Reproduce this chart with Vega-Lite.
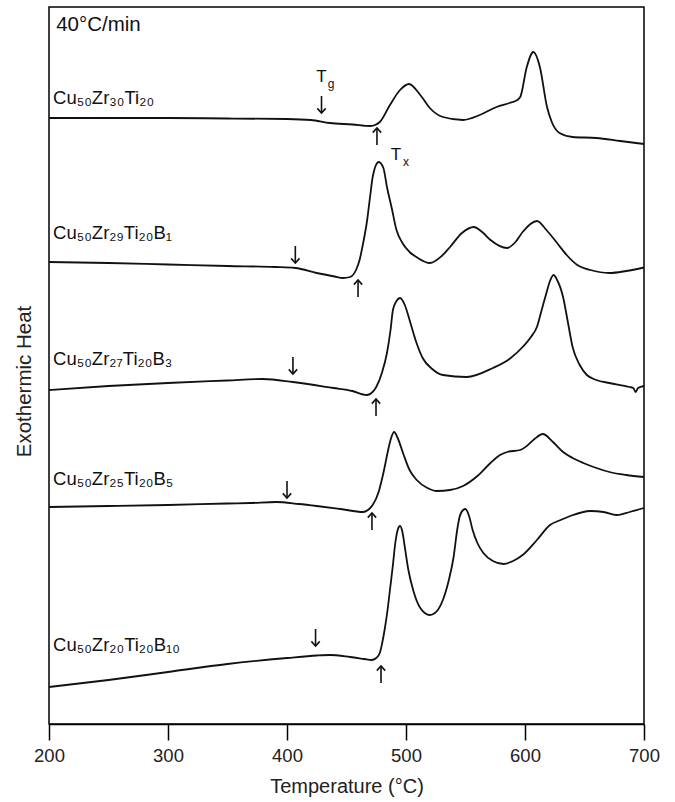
{
  "$schema": "https://vega.github.io/schema/vega-lite/v6.json",
  "width": 595,
  "height": 717,
  "autosize": {"type": "none"},
  "padding": {"left": 49, "top": 7, "right": 31, "bottom": 78},
  "background": "white",
  "config": {"view": {"stroke": "#000", "strokeWidth": 1.5}, "font": "Liberation Sans"},
  "datasets": {
    "curves": [
      {"s": "A", "T": 200, "h": 606}, {"s": "A", "T": 250, "h": 606}, {"s": "A", "T": 300, "h": 606}, {"s": "A", "T": 350, "h": 605.5}, {"s": "A", "T": 400, "h": 605}, {"s": "A", "T": 420, "h": 604}, {"s": "A", "T": 436, "h": 601}, {"s": "A", "T": 455, "h": 599.5}, {"s": "A", "T": 470, "h": 598}, {"s": "A", "T": 474, "h": 599}, {"s": "A", "T": 478, "h": 602}, {"s": "A", "T": 486.5, "h": 619}, {"s": "A", "T": 495, "h": 634}, {"s": "A", "T": 502.5, "h": 640}, {"s": "A", "T": 512, "h": 629}, {"s": "A", "T": 520, "h": 616}, {"s": "A", "T": 531, "h": 607}, {"s": "A", "T": 548, "h": 604}, {"s": "A", "T": 562, "h": 609}, {"s": "A", "T": 576, "h": 617}, {"s": "A", "T": 587, "h": 621}, {"s": "A", "T": 592, "h": 623}, {"s": "A", "T": 596, "h": 627}, {"s": "A", "T": 601.5, "h": 657}, {"s": "A", "T": 607, "h": 672}, {"s": "A", "T": 612.5, "h": 657}, {"s": "A", "T": 618.5, "h": 617}, {"s": "A", "T": 622.5, "h": 602}, {"s": "A", "T": 629, "h": 591}, {"s": "A", "T": 640, "h": 587}, {"s": "A", "T": 660, "h": 586}, {"s": "A", "T": 680, "h": 583}, {"s": "A", "T": 700, "h": 580},

      {"s": "B", "T": 200, "h": 462}, {"s": "B", "T": 250, "h": 461}, {"s": "B", "T": 300, "h": 459.5}, {"s": "B", "T": 350, "h": 458}, {"s": "B", "T": 390, "h": 457}, {"s": "B", "T": 407, "h": 456}, {"s": "B", "T": 425, "h": 451}, {"s": "B", "T": 440, "h": 447.5}, {"s": "B", "T": 447, "h": 446}, {"s": "B", "T": 453, "h": 447}, {"s": "B", "T": 458, "h": 454}, {"s": "B", "T": 461, "h": 464}, {"s": "B", "T": 464, "h": 481}, {"s": "B", "T": 467, "h": 501}, {"s": "B", "T": 470, "h": 529}, {"s": "B", "T": 472, "h": 547}, {"s": "B", "T": 477, "h": 562}, {"s": "B", "T": 481, "h": 556}, {"s": "B", "T": 484, "h": 537}, {"s": "B", "T": 488, "h": 516}, {"s": "B", "T": 492, "h": 494}, {"s": "B", "T": 497, "h": 481}, {"s": "B", "T": 503, "h": 472}, {"s": "B", "T": 510, "h": 466}, {"s": "B", "T": 520, "h": 461}, {"s": "B", "T": 530, "h": 468}, {"s": "B", "T": 537, "h": 477}, {"s": "B", "T": 547, "h": 491}, {"s": "B", "T": 557, "h": 497}, {"s": "B", "T": 564, "h": 492}, {"s": "B", "T": 571, "h": 484}, {"s": "B", "T": 585, "h": 476}, {"s": "B", "T": 592, "h": 482}, {"s": "B", "T": 598, "h": 492}, {"s": "B", "T": 610, "h": 503}, {"s": "B", "T": 618, "h": 494}, {"s": "B", "T": 627, "h": 481}, {"s": "B", "T": 635, "h": 469}, {"s": "B", "T": 644, "h": 459}, {"s": "B", "T": 655, "h": 454}, {"s": "B", "T": 671, "h": 451}, {"s": "B", "T": 685, "h": 453}, {"s": "B", "T": 700, "h": 456.5},

      {"s": "C", "T": 200, "h": 334}, {"s": "C", "T": 250, "h": 338}, {"s": "C", "T": 300, "h": 341}, {"s": "C", "T": 350, "h": 343.5}, {"s": "C", "T": 380, "h": 345}, {"s": "C", "T": 405, "h": 342}, {"s": "C", "T": 439, "h": 336}, {"s": "C", "T": 455, "h": 333}, {"s": "C", "T": 467, "h": 329}, {"s": "C", "T": 471, "h": 331}, {"s": "C", "T": 475, "h": 337}, {"s": "C", "T": 480, "h": 352}, {"s": "C", "T": 484, "h": 371}, {"s": "C", "T": 487, "h": 394}, {"s": "C", "T": 489, "h": 414}, {"s": "C", "T": 492, "h": 423}, {"s": "C", "T": 495, "h": 426}, {"s": "C", "T": 499, "h": 419}, {"s": "C", "T": 503, "h": 404}, {"s": "C", "T": 508, "h": 384}, {"s": "C", "T": 514, "h": 366}, {"s": "C", "T": 522, "h": 355}, {"s": "C", "T": 531, "h": 349}, {"s": "C", "T": 551, "h": 347}, {"s": "C", "T": 573, "h": 356}, {"s": "C", "T": 588, "h": 366}, {"s": "C", "T": 598, "h": 377}, {"s": "C", "T": 605, "h": 387}, {"s": "C", "T": 610, "h": 397}, {"s": "C", "T": 614, "h": 414}, {"s": "C", "T": 618, "h": 431}, {"s": "C", "T": 621, "h": 443}, {"s": "C", "T": 624, "h": 449}, {"s": "C", "T": 627, "h": 444}, {"s": "C", "T": 632, "h": 427}, {"s": "C", "T": 636, "h": 402}, {"s": "C", "T": 640, "h": 377}, {"s": "C", "T": 646, "h": 359}, {"s": "C", "T": 652, "h": 349}, {"s": "C", "T": 660, "h": 344}, {"s": "C", "T": 671, "h": 341}, {"s": "C", "T": 688, "h": 337}, {"s": "C", "T": 691, "h": 336}, {"s": "C", "T": 693, "h": 332}, {"s": "C", "T": 695, "h": 336}, {"s": "C", "T": 700, "h": 338},

      {"s": "D", "T": 200, "h": 217}, {"s": "D", "T": 250, "h": 218}, {"s": "D", "T": 300, "h": 219}, {"s": "D", "T": 350, "h": 220.5}, {"s": "D", "T": 369, "h": 221}, {"s": "D", "T": 391, "h": 222}, {"s": "D", "T": 410, "h": 220}, {"s": "D", "T": 425, "h": 218}, {"s": "D", "T": 445, "h": 215}, {"s": "D", "T": 464, "h": 212}, {"s": "D", "T": 468, "h": 214}, {"s": "D", "T": 472, "h": 219}, {"s": "D", "T": 477, "h": 232}, {"s": "D", "T": 481, "h": 251}, {"s": "D", "T": 485, "h": 274}, {"s": "D", "T": 487, "h": 284}, {"s": "D", "T": 490, "h": 292}, {"s": "D", "T": 493, "h": 286}, {"s": "D", "T": 497.5, "h": 271}, {"s": "D", "T": 503, "h": 254}, {"s": "D", "T": 509, "h": 244}, {"s": "D", "T": 518, "h": 236}, {"s": "D", "T": 526, "h": 233}, {"s": "D", "T": 537, "h": 234}, {"s": "D", "T": 548, "h": 238}, {"s": "D", "T": 560, "h": 248}, {"s": "D", "T": 571, "h": 261}, {"s": "D", "T": 579, "h": 269}, {"s": "D", "T": 585, "h": 272}, {"s": "D", "T": 596, "h": 274}, {"s": "D", "T": 601.5, "h": 278}, {"s": "D", "T": 608, "h": 285}, {"s": "D", "T": 615, "h": 290}, {"s": "D", "T": 623.5, "h": 282}, {"s": "D", "T": 632, "h": 272}, {"s": "D", "T": 640, "h": 266}, {"s": "D", "T": 649, "h": 261}, {"s": "D", "T": 660, "h": 256}, {"s": "D", "T": 671, "h": 252}, {"s": "D", "T": 685, "h": 249}, {"s": "D", "T": 700, "h": 247},

      {"s": "E", "T": 200, "h": 37}, {"s": "E", "T": 250, "h": 44}, {"s": "E", "T": 300, "h": 52}, {"s": "E", "T": 350, "h": 60}, {"s": "E", "T": 400, "h": 66}, {"s": "E", "T": 425, "h": 68.5}, {"s": "E", "T": 436, "h": 69}, {"s": "E", "T": 453, "h": 67}, {"s": "E", "T": 465, "h": 65}, {"s": "E", "T": 471, "h": 64}, {"s": "E", "T": 475, "h": 66}, {"s": "E", "T": 478, "h": 71}, {"s": "E", "T": 480, "h": 81}, {"s": "E", "T": 482, "h": 94}, {"s": "E", "T": 484.5, "h": 114}, {"s": "E", "T": 486.5, "h": 134}, {"s": "E", "T": 489, "h": 159}, {"s": "E", "T": 491, "h": 181}, {"s": "E", "T": 493, "h": 194}, {"s": "E", "T": 495, "h": 198}, {"s": "E", "T": 497, "h": 192}, {"s": "E", "T": 499, "h": 177}, {"s": "E", "T": 502, "h": 154}, {"s": "E", "T": 506, "h": 134}, {"s": "E", "T": 512, "h": 116}, {"s": "E", "T": 520, "h": 109}, {"s": "E", "T": 526, "h": 113}, {"s": "E", "T": 531, "h": 124}, {"s": "E", "T": 536, "h": 144}, {"s": "E", "T": 540, "h": 167}, {"s": "E", "T": 543, "h": 194}, {"s": "E", "T": 545, "h": 207}, {"s": "E", "T": 548, "h": 214}, {"s": "E", "T": 550, "h": 215}, {"s": "E", "T": 553, "h": 208}, {"s": "E", "T": 556, "h": 194}, {"s": "E", "T": 560, "h": 181}, {"s": "E", "T": 565, "h": 171}, {"s": "E", "T": 573, "h": 163}, {"s": "E", "T": 582, "h": 160}, {"s": "E", "T": 590, "h": 163}, {"s": "E", "T": 598, "h": 169}, {"s": "E", "T": 610, "h": 184}, {"s": "E", "T": 621, "h": 199}, {"s": "E", "T": 630, "h": 204}, {"s": "E", "T": 638, "h": 208}, {"s": "E", "T": 655, "h": 213}, {"s": "E", "T": 666, "h": 212}, {"s": "E", "T": 677, "h": 209}, {"s": "E", "T": 688, "h": 212}, {"s": "E", "T": 700, "h": 216}
    ],
    "labels": [
      {"T": 203.4, "h": 626, "label": "Cu₅₀Zr₃₀Ti₂₀"},
      {"T": 203.4, "h": 491, "label": "Cu₅₀Zr₂₉Ti₂₀B₁"},
      {"T": 203.4, "h": 365, "label": "Cu₅₀Zr₂₇Ti₂₀B₃"},
      {"T": 203.4, "h": 245, "label": "Cu₅₀Zr₂₅Ti₂₀B₅"},
      {"T": 203.4, "h": 79, "label": "Cu₅₀Zr₂₀Ti₂₀B₁₀"}
    ],
    "arrows": [
      {"T": 429, "tip": 611, "tail": 628, "dir": "down"},
      {"T": 407, "tip": 461, "tail": 478, "dir": "down"},
      {"T": 405, "tip": 350, "tail": 367, "dir": "down"},
      {"T": 400, "tip": 226, "tail": 243, "dir": "down"},
      {"T": 424, "tip": 78, "tail": 95, "dir": "down"},
      {"T": 475.6, "tip": 596, "tail": 579, "dir": "up"},
      {"T": 459.7, "tip": 444, "tail": 427, "dir": "up"},
      {"T": 474.8, "tip": 325, "tail": 308, "dir": "up"},
      {"T": 471.4, "tip": 211, "tail": 194, "dir": "up"},
      {"T": 479, "tip": 58, "tail": 41, "dir": "up"}
    ],
    "bigtext": [
      {"T": 206, "h": 699, "t": "40°C/min", "al": "left"},
      {"T": 429, "h": 647, "t": "T", "al": "center"},
      {"T": 491.6, "h": 569, "t": "T", "al": "center"}
    ],
    "smalltext": [
      {"T": 437, "h": 640, "t": "g"},
      {"T": 500, "h": 562, "t": "x"}
    ]
  },
  "encoding": {
    "x": {"field": "T", "type": "quantitative", "scale": {"domain": [200, 700], "nice": false, "zero": false},
      "axis": {"title": "Temperature (°C)", "values": [200, 300, 400, 500, 600, 700], "tickSize": 16, "tickWidth": 1.5, "tickColor": "#000", "domainColor": "#000", "domainWidth": 1.5, "labelFontSize": 18.5, "labelColor": "#222", "labelPadding": 6, "labelFlush": false, "titleFontSize": 20, "titleFontWeight": "normal", "titleColor": "#222", "titlePadding": 12, "grid": false}},
    "y": {"field": "h", "type": "quantitative", "scale": {"domain": [0, 717], "nice": false, "zero": false},
      "axis": {"title": "Exothermic Heat", "ticks": false, "labels": false, "domain": false, "grid": false, "titleFontSize": 20.5, "titleFontWeight": "normal", "titleColor": "#222", "titlePadding": 15, "titleY": 374}}
  },
  "layer": [
    {"data": {"name": "curves"}, "mark": {"type": "line", "color": "#111", "strokeWidth": 1.8, "interpolate": "monotone"}, "encoding": {"detail": {"field": "s"}}},
    {"data": {"name": "labels"}, "mark": {"type": "text", "align": "left", "baseline": "middle", "fontSize": 18.5, "color": "#111"}, "encoding": {"text": {"field": "label"}}},
    {"data": {"name": "arrows"}, "mark": {"type": "rule", "color": "#111", "strokeWidth": 1.6}, "encoding": {"y": {"field": "tip", "type": "quantitative"}, "y2": {"field": "tail"}}},
    {"data": {"name": "arrows"}, "transform": [{"filter": "datum.dir == 'down'"}], "mark": {"type": "point", "shape": "M-1,-1.1L0,0L1,-1.1", "filled": false, "color": "#111", "strokeWidth": 1.6, "size": 70, "opacity": 1}, "encoding": {"y": {"field": "tip", "type": "quantitative"}}},
    {"data": {"name": "arrows"}, "transform": [{"filter": "datum.dir == 'up'"}], "mark": {"type": "point", "shape": "M-1,1.1L0,0L1,1.1", "filled": false, "color": "#111", "strokeWidth": 1.6, "size": 70, "opacity": 1}, "encoding": {"y": {"field": "tip", "type": "quantitative"}}},
    {"data": {"name": "bigtext"}, "transform": [{"filter": "datum.al == 'left'"}], "mark": {"type": "text", "align": "left", "baseline": "middle", "fontSize": 20.5, "color": "#111"}, "encoding": {"text": {"field": "t"}}},
    {"data": {"name": "bigtext"}, "transform": [{"filter": "datum.al == 'center'"}], "mark": {"type": "text", "align": "center", "baseline": "middle", "fontSize": 17, "color": "#111"}, "encoding": {"text": {"field": "t"}}},
    {"data": {"name": "smalltext"}, "mark": {"type": "text", "align": "center", "baseline": "middle", "fontSize": 12, "color": "#111"}, "encoding": {"text": {"field": "t"}}}
  ]
}
